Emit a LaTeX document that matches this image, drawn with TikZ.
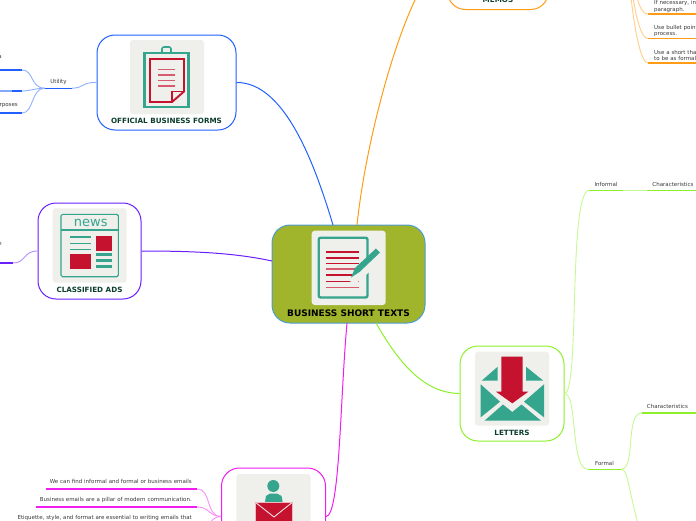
\documentclass[tikz,border=0pt]{standalone}
\usepackage{fontspec}
\setmainfont{DejaVu Sans}
\definecolor{tealI}{HTML}{35A58E}
\definecolor{redI}{HTML}{C4122F}
\definecolor{redL}{HTML}{D85A6E}
\definecolor{paperI}{HTML}{EFEFEB}
\definecolor{darkT}{HTML}{0B3D2E}
\definecolor{oliveM}{HTML}{A0B52C}
\definecolor{skyM}{HTML}{4C9CD0}
\definecolor{blueM}{HTML}{2160FF}
\definecolor{purpleM}{HTML}{6A1FFF}
\definecolor{limeM}{HTML}{8CF02A}
\definecolor{pinkM}{HTML}{F01CF0}
\definecolor{orangeM}{HTML}{FF9C14}
\tikzset{
  topic/.style={draw, line width=1pt, fill=white, rounded corners=18pt, inner sep=0pt},
  title/.style={font=\bfseries\fontsize{7.2}{8}\selectfont, text=darkT, inner sep=0pt},
  leaf/.style={font=\fontsize{5.5}{6.6}\selectfont, text=black!78, inner sep=0pt, minimum height=12pt},
  under/.style={line width=1.3pt},
  link/.style={line width=1pt},
  sublink/.style={line width=0.9pt},
  icon/.style={fill=paperI, rounded corners=3pt},
}
\begin{document}
\begin{tikzpicture}[x=1pt, y=-1pt]
  \useasboundingbox (0,0) rectangle (696,520);
  \clip (0,0) rectangle (696,520);

  % --- 1. main topics ---
  \node[topic, draw=skyM, fill=oliveM, minimum width=153pt, minimum height=98pt] (Central) at (348.5,274) {};
  \node[topic, draw=blueM, minimum width=139pt, minimum height=95pt] (Forms) at (166.5,82.5) {};
  \node[topic, draw=purpleM, minimum width=103pt, minimum height=96pt] (Ads) at (89.5,251) {};
  \node[topic, draw=limeM, minimum width=104pt, minimum height=95pt] (Letters) at (512,393.5) {};
  \node[topic, draw=pinkM, minimum width=104pt, minimum height=97pt] (Emails) at (273.5,516.5) {};
  \node[topic, draw=orangeM, minimum width=101pt, minimum height=95pt] (Memos) at (498,-38) {};

  % links from the centre
  \coordinate (cForms) at (333,225);
  \coordinate (cMemos) at (357,225);
  \coordinate (cAds) at (272,261);
  \coordinate (cLetters) at (376,323);
  \coordinate (cEmails) at (347,323);
  \draw[link, blueM] (Forms.east) .. controls (285,82) and (315,165) .. (cForms);
  \draw[link, orangeM] (cMemos) .. controls (368,120) and (415,-38) .. (Memos.west);
  \draw[link, purpleM] (Ads.east) .. controls (195,251) and (235,253) .. (cAds);
  \draw[link, limeM] (cLetters) .. controls (400,365) and (425,393) .. (Letters.west);
  \draw[link, pinkM] (cEmails) .. controls (340,400) and (340,516) .. (Emails.east);

  % --- 2. icons ---
  % document and pen
  \fill[icon] (311.7,230.7) rectangle (385.7,305);
  \draw[tealI, line width=2.4pt, rounded corners=2pt] (318.7,237.7) rectangle (367.5,297.5);
  \foreach \yy/\hh in {251.7/1, 257.7/1.2, 263.3/0.7, 275/1.1, 281.3/0.7}
    \fill[redI] (325.7,\yy-\hh) rectangle (359.3,\yy+\hh);
  \foreach \yy in {269,287.3}
    \fill[redL] (325.7,\yy-0.7) rectangle (359.3,\yy+0.7);
  \fill[paperI] (349,279) -- (378,252) -- (381,262) -- (353,286) -- cycle;
  \fill[tealI] (351,277.5) -- (355,268) -- (376,248.5) -- (380,252.5) -- (359.5,272) -- cycle;

  % clipboard
  \fill[icon] (130,40) rectangle (204,114);
  \draw[tealI, line width=1.6pt, rounded corners=2pt] (162,52) -- (162,47) -- (171,47) -- (171,52);
  \draw[tealI, line width=2.6pt] (144.5,53) rectangle (188.5,107);
  \draw[redI, line width=1.9pt] (150,59) -- (184,59) -- (184,91.5) -- (172,102) -- (150,102) -- cycle;
  \draw[redI, line width=1.6pt] (172,102) -- (172,91.5) -- (184,91.5);
  \foreach \yy in {69.3,75,80.7,86}
    \fill[redL] (158,\yy-0.7) rectangle (175,\yy+0.7);

  % newspaper
  \fill[icon] (52.7,208.3) rectangle (126.7,282.7);
  \draw[tealI, line width=1.1pt, rounded corners=1.5pt] (61,214.3) rectangle (118.3,276.7);
  \draw[tealI, line width=1.1pt] (61,230) -- (118.3,230);
  \node[text=tealI, font=\fontsize{13}{14}\selectfont, inner sep=0pt] (NewsWord) at (90.7,222.5) {news};
  \foreach \yy in {237,243.3,249.3}
    \fill[tealI] (69.7,\yy-0.8) rectangle (91,\yy+0.8);
  \fill[redI] (96.3,235.7) rectangle (112,251);
  \fill[redI] (69.7,254) rectangle (91,269.3);
  \foreach \yy in {254.3,260.7,266.7}
    \fill[tealI] (96.3,\yy-1.3) rectangle (112,\yy+1.3);

  % envelope and arrow
  \fill[icon] (475,351.7) rectangle (549,425.7);
  \fill[tealI] (497.7,366.7) -- (497.7,380.7) -- (481.7,380.7) -- cycle;
  \fill[tealI] (526,366.7) -- (526,380.7) -- (543.3,380.7) -- cycle;
  \fill[tealI] (480.7,384.3) -- (480.7,417.3) -- (500,401.7) -- cycle;
  \fill[tealI] (544,384.3) -- (544,417.3) -- (524,401.7) -- cycle;
  \fill[tealI] (484.5,420.7) -- (503,404.5) -- (512.3,412) -- (521.5,404.5) -- (541,420.7) -- cycle;
  \fill[redI] (501.3,356.7) -- (522.7,356.7) -- (522.7,391.7) -- (528.3,391.7) -- (512.3,403.3) -- (496,391.7) -- (501.3,391.7) -- cycle;

  % person and mail
  \fill[icon] (236.3,474) rectangle (310.7,540);
  \fill[tealI] (273.3,486) circle (6);
  \fill[tealI] (265,502) -- (266,496) -- (270,493.5) -- (277,493.5) -- (281.5,496) -- (282.7,502) -- cycle;
  \fill[redI] (255,502) rectangle (292.7,540);
  \draw[white!85!redI, line width=0.9pt] (255,502) -- (274,517) -- (292.7,502);
  \draw[white!70!redI, line width=0.5pt] (255,502) rectangle (292.7,540);

  % --- 3. titles ---
  \node[title, font=\bfseries\fontsize{9}{10}\selectfont, text=black] (CentralName) at (348.5,313) {BUSINESS SHORT TEXTS};
  \node[title] (FormsName) at (166.5,120.5) {OFFICIAL BUSINESS FORMS};
  \node[title] (AdsName) at (89.5,289.5) {CLASSIFIED ADS};
  \node[title] (LettersName) at (512,432.5) {LETTERS};
  \node[title] (MemosName) at (498,0) {MEMOS};

  % --- 4. branches on the left ---
  \node[leaf, minimum width=27pt] (Utility) at (58.5,82) {Utility};
  \draw[under, blueM] (Utility.south west) -- (Utility.south east);
  \node[leaf, minimum width=44pt, anchor=south east] (UtilA) at (22,70) {};
  \node[leaf, minimum width=44pt, anchor=south east] (UtilB) at (22,91) {};
  \node[leaf, minimum width=44pt, anchor=south east] (UtilC) at (22,113) {};
  \node[leaf, anchor=east] (UtilAText) at (2,57) {a};
  \node[leaf, anchor=east] (UtilCText) at (18,105.5) {rposes};
  \draw[under, blueM] (UtilA.south west) -- (UtilA.south east);
  \draw[under, blueM!55!white] (UtilB.south west) -- (12,91);
  \draw[under, blueM] (12,91) -- (UtilB.south east);
  \draw[under, blueM] (UtilC.south west) -- (UtilC.south east);
  \draw[sublink, blueM!50!white] (Utility.south east) .. controls (84,88) and (82,82) .. (Forms.west);
  \draw[sublink, blueM!50!white] (UtilA.south east) .. controls (34,70) and (30,88) .. (Utility.south west);
  \draw[sublink, blueM!50!white] (UtilB.south east) .. controls (30,91) and (36,88) .. (Utility.south west);
  \draw[sublink, blueM!50!white] (UtilC.south east) .. controls (34,113) and (31,88) .. (Utility.south west);

  \node[leaf, minimum width=26pt, anchor=south east] (AdsLeaf) at (13,263) {};
  \node[leaf, anchor=east] (AdsText) at (2,244) {e};
  \draw[under, purpleM] (AdsLeaf.south west) -- (AdsLeaf.south east);
  \draw[sublink, purpleM!50!white] (AdsLeaf.south east) .. controls (26,263) and (23,251) .. (Ads.west);

  \node[leaf, text width=151pt, minimum height=14pt, anchor=south east, align=right] (MailA) at (197,489) {We can find informal and formal or business emails\hspace*{5pt}};
  \node[leaf, text width=161pt, minimum height=14pt, anchor=south east, align=right] (MailB) at (197,507) {Business emails are a pillar of modern communication.\hspace*{5pt}};
  \node[leaf, text width=185pt, anchor=east, align=right] (MailC) at (197,518) {Etiquette, style, and format are essential to writing emails that\hspace*{5pt}};
  \coordinate (MailCEnd) at (197,535);
  \draw[under, pinkM] (MailA.south west) -- (MailA.south east);
  \draw[under, pinkM] (MailB.south west) -- (MailB.south east);
  \draw[sublink, pinkM!50!white] (MailA.south east) .. controls (212,489) and (205,516) .. (Emails.west);
  \draw[sublink, pinkM!50!white] (MailB.south east) .. controls (210,507) and (208,516) .. (Emails.west);
  \draw[sublink, pinkM!50!white] (MailCEnd) .. controls (208,535) and (208,516) .. (Emails.west);

  % --- 5. branches on the right ---
  \node[leaf, minimum width=33pt] (Informal) at (606,184) {Informal};
  \node[leaf, minimum width=60pt] (CharA) at (677,184) {\hspace{-8pt}Characteristics};
  \node[leaf, minimum width=33pt] (Formal) at (604.5,463) {Formal};
  \node[leaf, minimum width=60pt] (CharB) at (672,406.7) {\hspace{-9pt}Characteristics};
  \coordinate (FormalNext) at (660,600);
  \draw[under, limeM] (Informal.south west) -- (Informal.south east);
  \draw[under, limeM] (CharA.south west) -- (CharA.south east);
  \draw[under, limeM] (Formal.south west) -- (Formal.south east);
  \draw[under, limeM] (CharB.south west) -- (CharB.south east);
  \draw[sublink, limeM!50!white] (Letters.east) .. controls (580,394) and (568,190) .. (Informal.south west);
  \draw[sublink, limeM!50!white] (Letters.east) .. controls (578,394) and (570,469) .. (Formal.south west);
  \draw[sublink, limeM!50!white] (Informal.south east) -- (CharA.south west);
  \draw[sublink, limeM!50!white] (Formal.south east) .. controls (636,469) and (625,412.7) .. (CharB.south west);
  \draw[sublink, limeM!50!white] (Formal.south east) .. controls (630,469) and (627,500) .. (FormalNext);

  \coordinate (MemoHub) at (628,-40);
  \node[leaf, text width=60pt, minimum height=15pt, anchor=south west, align=left] (MemoA) at (648,14) {\hspace*{6pt}If necessary, in\\ \hspace*{6pt}paragraph.};
  \node[leaf, text width=60pt, minimum height=15pt, anchor=south west, align=left] (MemoB) at (648,38.5) {\hspace*{6pt}Use bullet point\\ \hspace*{6pt}process.};
  \node[leaf, text width=60pt, minimum height=15pt, anchor=south west, align=left] (MemoC) at (648,63) {\hspace*{6pt}Use a short tha\\ \hspace*{6pt}to be as formal};
  \foreach \nn in {MemoA,MemoB,MemoC} {
    \draw[under, orangeM] (\nn.south west) -- (\nn.south east);
  }
  \draw[sublink, orangeM!50!white] (MemoHub) .. controls (636,-10) and (638,14) .. (MemoA.south west);
  \draw[sublink, orangeM!50!white] (MemoHub) .. controls (632,-5) and (638,38.5) .. (MemoB.south west);
  \draw[sublink, orangeM!50!white] (MemoHub) .. controls (630,0) and (638,63) .. (MemoC.south west);
\end{tikzpicture}
\end{document}
